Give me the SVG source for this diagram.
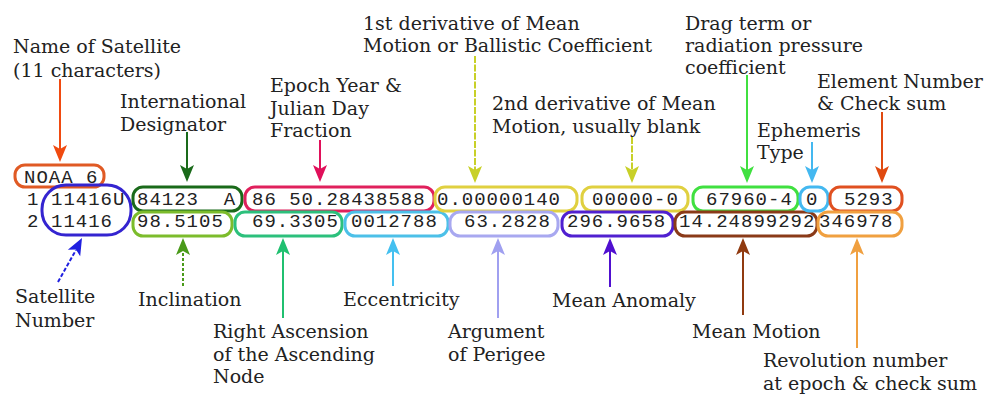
<svg xmlns="http://www.w3.org/2000/svg" xmlns:xlink="http://www.w3.org/1999/xlink" width="987" height="394" viewBox="0 0 987 394">
<style>
.lbl{font-family:"DejaVu Serif","Liberation Serif",serif;font-size:19px;fill:#222}
.tle{font-family:"Liberation Mono","DejaVu Sans Mono",monospace;font-size:19px;letter-spacing:1px;fill:#222;white-space:pre}
.box{fill:none;stroke-width:3}
.ln{fill:none;stroke-width:2}
</style>
<defs>
<path id="ahd" d="M0,0 L-7,-17 L0,-13 L7,-17 Z"/>
<path id="ahu" d="M0,0 L-7,17 L0,13 L7,17 Z"/>
</defs>
<rect width="987" height="394" fill="#fff"/>

<g id="line-numbers">
<text class="tle" x="27" y="205">1</text>
<text class="tle" x="27" y="227">2</text>
</g>

<g id="name">
<rect class="box" x="15" y="165" width="89" height="22" rx="10" stroke="#e05a24"/>
<text class="tle" x="24" y="183">NOAA 6</text>
<text class="lbl" x="13" y="53">Name of Satellite</text>
<text class="lbl" x="13" y="77">(11 characters)</text>
</g>

<g id="satnum">
<rect class="box" x="42" y="185" width="89" height="50" rx="24" stroke="#3424d0"/>
<text class="tle" x="51" y="205">11416U</text>
<text class="tle" x="51" y="227">11416</text>
<text class="lbl" x="15" y="303">Satellite</text>
<text class="lbl" x="15" y="327">Number</text>
</g>

<g id="intl">
<rect class="box" x="133" y="187" width="109" height="24" rx="10" stroke="#1a6a1a"/>
<text class="tle" x="137" y="205" xml:space="preserve">84123  A</text>
<text class="lbl" x="120" y="108">International</text>
<text class="lbl" x="120" y="131">Designator</text>
</g>

<g id="incl">
<rect class="box" x="133" y="212" width="99" height="24" rx="10" stroke="#7cbc2c"/>
<text class="tle" x="137" y="227">98.5105</text>
<text class="lbl" x="138" y="306">Inclination</text>
</g>

<g id="epoch">
<rect class="box" x="245" y="187" width="189" height="24" rx="10" stroke="#e0205c"/>
<text class="tle" x="252" y="205">86 50.28438588</text>
<text class="lbl" x="270" y="92">Epoch Year &amp;</text>
<text class="lbl" x="270" y="115">Julian Day</text>
<text class="lbl" x="270" y="137">Fraction</text>
</g>

<g id="raan">
<rect class="box" x="235" y="212" width="107" height="24" rx="10" stroke="#2cc07c"/>
<text class="tle" x="252" y="227">69.3305</text>
<text class="lbl" x="213" y="338">Right Ascension</text>
<text class="lbl" x="213" y="361">of the Ascending</text>
<text class="lbl" x="213" y="383">Node</text>
</g>

<g id="ecc">
<rect class="box" x="345" y="212" width="103" height="24" rx="10" stroke="#4cc0e8"/>
<text class="tle" x="351" y="227">0012788</text>
<text class="lbl" x="343" y="306">Eccentricity</text>
</g>

<g id="ndot">
<rect class="box" x="435" y="187" width="142" height="24" rx="10" stroke="#e0d040"/>
<text class="tle" x="437" y="205">0.00000140</text>
<text class="lbl" x="363" y="30">1st derivative of Mean</text>
<text class="lbl" x="363" y="52">Motion or Ballistic Coefficient</text>
</g>

<g id="argp">
<rect class="box" x="450" y="212" width="108" height="24" rx="10" stroke="#a8a8f0"/>
<text class="tle" x="464" y="227">63.2828</text>
<text class="lbl" x="448" y="338">Argument</text>
<text class="lbl" x="448" y="361">of Perigee</text>
</g>

<g id="nddot">
<rect class="box" x="582" y="187" width="106" height="24" rx="10" stroke="#e0d040"/>
<text class="tle" x="592" y="205">00000-0</text>
<text class="lbl" x="492" y="110">2nd derivative of Mean</text>
<text class="lbl" x="492" y="133">Motion, usually blank</text>
</g>

<g id="ma">
<rect class="box" x="562" y="212" width="111" height="24" rx="10" stroke="#5020d0"/>
<text class="tle" x="567" y="227">296.9658</text>
<text class="lbl" x="552" y="307">Mean Anomaly</text>
</g>

<g id="bstar">
<rect class="box" x="693" y="187" width="105" height="24" rx="10" stroke="#40e040"/>
<text class="tle" x="706" y="205">67960-4</text>
<text class="lbl" x="685" y="30">Drag term or</text>
<text class="lbl" x="685" y="52">radiation pressure</text>
<text class="lbl" x="685" y="74">coefficient</text>
</g>

<g id="mm">
<rect class="box" x="675" y="212" width="142" height="24" rx="10" stroke="#8a3a18"/>
<text class="tle" x="679" y="227">14.24899292</text>
<text class="lbl" x="692" y="338">Mean Motion</text>
</g>

<g id="eph">
<rect class="box" x="800" y="187" width="28" height="24" rx="10" stroke="#44b8f0"/>
<text class="tle" x="806" y="205">0</text>
<text class="lbl" x="757" y="137">Ephemeris</text>
<text class="lbl" x="757" y="159">Type</text>
</g>

<g id="elnum">
<rect class="box" x="830" y="187" width="72" height="24" rx="10" stroke="#e05020"/>
<text class="tle" x="844" y="205">5293</text>
<text class="lbl" x="817" y="88">Element Number</text>
<text class="lbl" x="817" y="110">&amp; Check sum</text>
</g>

<g id="rev">
<rect class="box" x="818" y="212" width="84" height="24" rx="10" stroke="#f0a040"/>
<text class="tle" x="819" y="227">346978</text>
<text class="lbl" x="763" y="367">Revolution number</text>
<text class="lbl" x="763" y="390">at epoch &amp; check sum</text>
</g>

<g id="connectors">
<line class="ln" x1="60" y1="79" x2="60" y2="150" stroke="#f04a10"/>
<use href="#ahd" x="60" y="162" fill="#f04a10"/>
<line class="ln" x1="187" y1="132" x2="187" y2="170" stroke="#1a6a1a"/>
<use href="#ahd" x="187" y="182" fill="#1a6a1a"/>
<line class="ln" x1="320" y1="140" x2="320" y2="170" stroke="#e0105a"/>
<use href="#ahd" x="320" y="182" fill="#e0105a"/>
<line class="ln" x1="475" y1="56" x2="475" y2="170" stroke="#c8d028" stroke-dasharray="7 1.5"/>
<use href="#ahd" x="475" y="183" fill="#c8d028"/>
<line class="ln" x1="632" y1="137" x2="632" y2="170" stroke="#c8d028" stroke-dasharray="7 1.5"/>
<use href="#ahd" x="632" y="183" fill="#c8d028"/>
<line class="ln" x1="747" y1="75" x2="747" y2="170" stroke="#40e040"/>
<use href="#ahd" x="747" y="183" fill="#40e040"/>
<line class="ln" x1="812" y1="142" x2="812" y2="170" stroke="#44b8f0"/>
<use href="#ahd" x="812" y="183" fill="#44b8f0"/>
<line class="ln" x1="882" y1="112" x2="882" y2="170" stroke="#e04a10"/>
<use href="#ahd" x="882" y="183" fill="#e04a10"/>

<line class="ln" x1="58" y1="282" x2="76" y2="250" stroke="#2020e0" stroke-dasharray="4 2"/>
<use href="#ahu" transform="translate(82,238) rotate(28)" fill="#2020e0"/>
<line class="ln" x1="183" y1="286" x2="183" y2="250" stroke="#4a9a1a" stroke-dasharray="3 2"/>
<use href="#ahu" x="183" y="238" fill="#4a9a1a"/>
<line class="ln" x1="283" y1="318" x2="283" y2="250" stroke="#20c070"/>
<use href="#ahu" x="283" y="238" fill="#20c070"/>
<line class="ln" x1="393" y1="286" x2="393" y2="250" stroke="#44c0f0"/>
<use href="#ahu" x="393" y="238" fill="#44c0f0"/>
<line class="ln" x1="498" y1="318" x2="498" y2="250" stroke="#a0a0f0"/>
<use href="#ahu" x="498" y="238" fill="#a0a0f0"/>
<line class="ln" x1="610" y1="287" x2="610" y2="250" stroke="#5010d0"/>
<use href="#ahu" x="610" y="238" fill="#5010d0"/>
<line class="ln" x1="743" y1="315" x2="743" y2="250" stroke="#903a10"/>
<use href="#ahu" x="743" y="238" fill="#903a10"/>
<line class="ln" x1="857" y1="348" x2="857" y2="250" stroke="#f0a040"/>
<use href="#ahu" x="857" y="238" fill="#f0a040"/>
</g>
</svg>
